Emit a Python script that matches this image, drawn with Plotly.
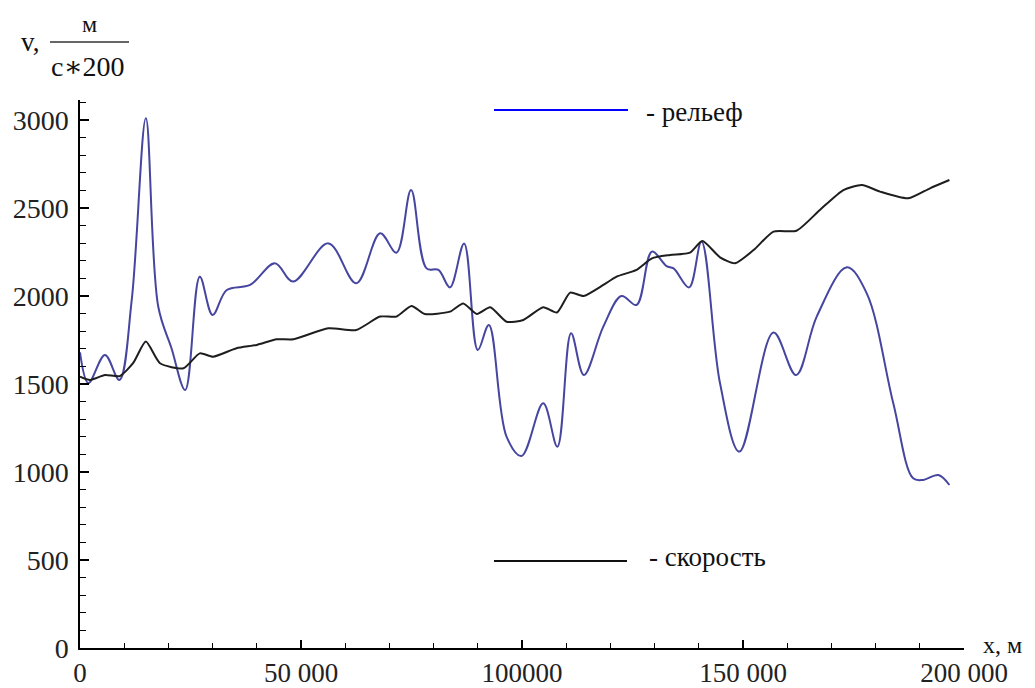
import plotly.graph_objects as go

# --- data ---
relief_x = [0, 1900, 5650, 8900, 11700, 14900, 17700, 20700, 23800, 27100, 30000, 33200,
            38500, 44100, 48200, 56200, 62500, 67900, 71600, 74900, 78400, 81100, 83700,
            86900, 90000, 92500, 96500, 99900, 104800, 108000, 111100, 114000, 118400,
            122500, 125900, 129400, 132700, 134300, 137800, 140600, 144800, 149200, 156900,
            162000, 166700, 173500, 178000, 184000, 188500, 190800, 194200, 196700]
relief_y = [1680, 1505, 1665, 1523, 1977, 3010, 1940, 1703, 1466, 2110, 1892, 2034,
            2063, 2186, 2082, 2299, 2072, 2356, 2246, 2602, 2157, 2148, 2049,
            2299, 1693, 1835, 1201, 1091, 1390, 1144, 1788, 1551, 1826,
            2000, 1949, 2252, 2170, 2157, 2049, 2309, 1504, 1116, 1792,
            1551, 1884, 2163, 2015, 1390, 964, 955, 983, 926]

speed_x = [0, 2300, 5650, 9000, 12000, 14900, 18100, 23400, 27100, 30100, 35400, 40000,
           44500, 48300, 56200, 62500, 67900, 71600, 75000, 78000, 83700, 86700, 89800,
           92800, 96500, 100300, 104800, 107900, 110900, 113900, 118400, 121400, 125900,
           129400, 133500, 138000, 140800, 144800, 148200, 152400, 156900, 162100, 167400,
           172700, 176900, 181000, 187400, 192300, 196700]
speed_y = [1542, 1523, 1551, 1545, 1618, 1741, 1618, 1589, 1674, 1655, 1703, 1722,
           1754, 1754, 1817, 1807, 1883, 1883, 1943, 1898, 1911, 1958, 1898,
           1936, 1854, 1864, 1936, 1906, 2019, 2000, 2063, 2110, 2148,
           2214, 2233, 2246, 2312, 2220, 2186, 2261, 2366, 2371, 2489,
           2602, 2631, 2593, 2555, 2612, 2659]

x_tickvals = [0, 50000, 100000, 150000, 200000]
x_ticktext = ["0", "50 000", "100000", "150 000", "200 000"]
y_tickvals = [0, 500, 1000, 1500, 2000, 2500, 3000]
y_ticktext = ["0", "500", "1000", "1500", "2000", "2500", "3000"]

legend_relief = "- рельеф"
legend_speed = "- скорость"
x_label = "x, м"

# page body adds an 8px offset; positions below are given in screen pixels
OFF = 8
W, H = 1027, 680
L, R, T, B = 80 - OFF, 1027 - (964 - OFF), 100 - OFF, 680 - (648 - OFF)
PW, PH = W - L - R, H - T - B


def px(xs):
    return (xs - OFF - L) / PW


def py(ys):
    return (H - B - (ys - OFF)) / PH


TICKFONT = dict(family="Liberation Serif, DejaVu Serif, serif", size=28, color="#222")
TEXTFONT = dict(family="Liberation Serif, DejaVu Serif, serif", size=27, color="#111")

fig = go.Figure()
fig.add_trace(go.Scatter(x=relief_x, y=relief_y, mode="lines",
                         line=dict(color="#4646a0", width=2, shape="spline", smoothing=1.0),
                         showlegend=False, hoverinfo="skip"))
fig.add_trace(go.Scatter(x=speed_x, y=speed_y, mode="lines",
                         line=dict(color="#1e1e1e", width=2, shape="spline", smoothing=0.6),
                         showlegend=False, hoverinfo="skip"))

fig.update_layout(
    width=W, height=H,
    margin=dict(l=L, r=R, t=T, b=B, autoexpand=False),
    paper_bgcolor="white", plot_bgcolor="white",
    xaxis=dict(range=[0, 200000], showgrid=False, zeroline=False, showline=True,
               linecolor="black", linewidth=1.5, ticks="inside", ticklen=8,
               tickwidth=1.5, tickcolor="black", tickvals=x_tickvals, ticktext=x_ticktext,
               tickfont=dict(TICKFONT, size=27), automargin=False, ticklabelstandoff=0,
               minor=dict(dtick=10000, ticks="inside", ticklen=5, tickwidth=1.2,
                          tickcolor="black", showgrid=False)),
    yaxis=dict(range=[0, PH / 0.176], showgrid=False, zeroline=False, showline=True,
               linecolor="black", linewidth=1.5, ticks="inside", ticklen=9,
               tickwidth=1.5, tickcolor="black", tickvals=y_tickvals, ticktext=y_ticktext,
               tickfont=TICKFONT, automargin=False, ticklabelstandoff=4,
               minor=dict(dtick=100, ticks="inside", ticklen=6, tickwidth=1.2,
                          tickcolor="black", showgrid=False)),
)

shapes = [
    dict(type="line", xref="paper", yref="paper", x0=px(494), x1=px(628), y0=py(110), y1=py(110),
         line=dict(color="#0000ff", width=2)),
    dict(type="line", xref="paper", yref="paper", x0=px(494), x1=px(627), y0=py(561), y1=py(561),
         line=dict(color="#111111", width=2)),
    # fraction bar of the y-axis unit
    dict(type="line", xref="paper", yref="paper", x0=px(50), x1=px(129), y0=py(42), y1=py(42),
         line=dict(color="#333", width=1.5)),
]
fig.update_layout(shapes=shapes)

ann = [
    dict(text=legend_relief, x=px(644), y=py(112), xanchor="left", yanchor="middle"),
    dict(text=legend_speed, x=px(647), y=py(557), xanchor="left", yanchor="middle"),
    dict(text=x_label, x=px(981), y=py(660), xanchor="left", yanchor="bottom",
         font=dict(TEXTFONT, size=24)),
    dict(text="v,", x=px(19), y=py(42), xanchor="left", yanchor="middle",
         font=dict(TEXTFONT, size=27)),
    dict(text="м", x=px(89), y=py(9), xanchor="center", yanchor="top",
         font=dict(TEXTFONT, size=24)),
    dict(text="с∗200", x=px(87), y=py(67), xanchor="center", yanchor="middle",
         font=dict(TEXTFONT, size=28)),
]
fig.update_layout(annotations=[dict(dict(xref="paper", yref="paper", showarrow=False,
                                         font=TEXTFONT), **a) for a in ann])

fig.write_html("out.html")
